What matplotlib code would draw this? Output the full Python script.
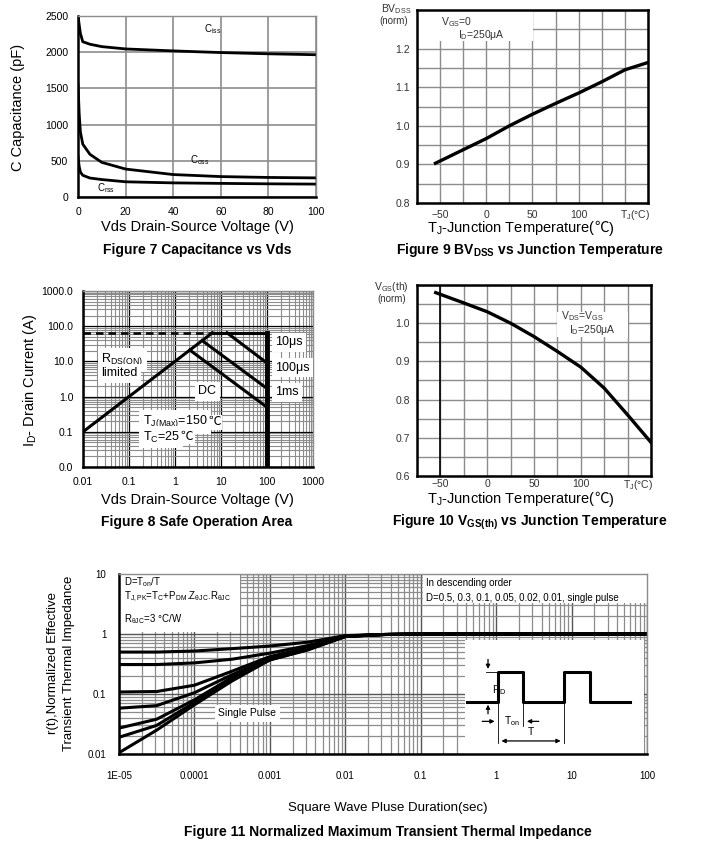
import matplotlib.pyplot as plt
from matplotlib.patches import Rectangle
from matplotlib.ticker import LogLocator, NullFormatter, MultipleLocator

plt.rcParams['font.family'] = ['Liberation Sans', 'DejaVu Sans']
plt.rcParams['mathtext.fontset'] = 'custom'
plt.rcParams['mathtext.rm'] = 'Liberation Sans'
plt.rcParams['mathtext.it'] = 'Liberation Sans:italic'
plt.rcParams['mathtext.bf'] = 'Liberation Sans:bold'
plt.rcParams['mathtext.default'] = 'regular'

# ---- Figure 7: capacitance vs Vds
vds = [0, 0.5, 1, 2, 5, 10, 20, 40, 60, 80, 100]
ciss = [2500, 2380, 2260, 2145, 2110, 2077, 2045, 2018, 1995, 1978, 1965]
coss = [1560, 1150, 900, 730, 590, 478, 386, 310, 282, 270, 264]
crss = [560, 420, 345, 300, 262, 241, 210, 195, 188, 182, 178]

# ---- Figure 9: BVdss (norm) vs Tj
tj9 = [-55, -25, 0, 25, 50, 75, 100, 125, 150, 175]
bvdss = [0.903, 0.938, 0.967, 1.0, 1.03, 1.058, 1.085, 1.114, 1.145, 1.164]

# ---- Figure 10: Vgs(th) (norm) vs Tj
tj10 = [-55, -25, 0, 25, 50, 75, 100, 125, 150, 175]
vgsth = [1.08, 1.053, 1.03, 1.0, 0.965, 0.926, 0.885, 0.83, 0.76, 0.688]

# ---- Figure 8: safe operating area
rds_v = [0.01, 6.5]
rds_i = [0.1, 65]
limit_v = [6.5, 100, 100]
limit_i = [65, 65, 0.01]
us10_v = [13.5, 100]
us10_i = [65, 9]
us100_v = [3.9, 100]
us100_i = [39, 1.7]
ms1_v = [2.1, 100]
ms1_i = [21, 0.5]

# ---- Figure 11: transient thermal impedance
t_pulse = [1e-5, 3.16e-5, 1e-4, 3.16e-4, 1e-3, 3.16e-3, 1e-2, 3.16e-2, 0.1, 100]
zth = {
    'D=0.5':  [0.50, 0.50, 0.52, 0.57, 0.63, 0.73, 0.94, 0.98, 1.0, 1.0],
    'D=0.3':  [0.31, 0.31, 0.33, 0.38, 0.48, 0.64, 0.93, 0.98, 1.0, 1.0],
    'D=0.1':  [0.108, 0.11, 0.14, 0.24, 0.42, 0.59, 0.92, 0.98, 1.0, 1.0],
    'D=0.05': [0.058, 0.064, 0.105, 0.21, 0.39, 0.57, 0.91, 0.98, 1.0, 1.0],
    'D=0.02': [0.027, 0.038, 0.08, 0.19, 0.375, 0.56, 0.91, 0.98, 1.0, 1.0],
    'D=0.01': [0.019, 0.03, 0.072, 0.185, 0.37, 0.55, 0.91, 0.98, 1.0, 1.0],
    'single': [0.0105, 0.025, 0.066, 0.165, 0.37, 0.54, 0.91, 0.98, 1.0, 1.0],
}
# square-wave sketch inside figure 11
wave_t = [0.41, 1.06, 1.06, 2.3, 2.3, 7.9, 7.9, 17.7, 17.7, 60]
wave_p = [0.073, 0.073, 0.23, 0.23, 0.073, 0.073, 0.23, 0.23, 0.073, 0.073]

GRID = '#8c8c8c'
CJK = ['Liberation Sans', 'Noto Sans CJK SC']
W, H = 709, 866
fig = plt.figure(figsize=(W / 100, H / 100), dpi=100)


def px_axes(x0, y0, x1, y1):
    return fig.add_axes([x0 / W, 1 - y1 / H, (x1 - x0) / W, (y1 - y0) / H])


def ftext(x, y, s, **kw):
    kw.setdefault('ha', 'center')
    kw.setdefault('va', 'center')
    return fig.text(x / W, 1 - y / H, s, **kw)


def tail(ax, first, s, dx=0.3, dy=2.0, family=CJK, **kw):
    # glue a plain-text piece (the ℃ sign) right after a mathtext piece
    return ax.annotate(s, xy=(1, 0), xycoords=first, xytext=(dx, dy),
                       textcoords='offset points', ha='left', va='bottom',
                       family=family, annotation_clip=False, **kw)


def frame(ax, dark=('left', 'bottom')):
    for s in ax.spines:
        if s in dark:
            ax.spines[s].set_color('black')
            ax.spines[s].set_linewidth(1.8)
        else:
            ax.spines[s].set_color(GRID)
            ax.spines[s].set_linewidth(1.0)
    ax.set_axisbelow(True)


white = dict(facecolor='white', edgecolor='none', pad=2.5)

# ================= Figure 7
ax7 = px_axes(78, 16, 316, 197)
for y in (ciss, coss, crss):
    ax7.plot(vds, y, color='black', lw=2)
ax7.set_xlim(0, 100)
ax7.set_ylim(0, 2500)
ax7.set_xticks(range(0, 101, 20))
ax7.set_yticks(range(0, 2501, 500))
ax7.grid(color=GRID, lw=1.2)
ax7.tick_params(length=0, labelsize=7.5, pad=7)
frame(ax7)
ax7.text(53, 2280, r'C$_{iss}$', fontsize=7)
ax7.text(47, 460, r'C$_{oss}$', fontsize=7)
ax7.text(8, 75, r'C$_{rss}$', fontsize=7)
ftext(197, 227, 'Vds Drain-Source Voltage (V)', fontsize=10.5)
ftext(18, 107, 'C Capacitance (pF)', fontsize=10.5, rotation=90)
ftext(197, 250, 'Figure 7 Capacitance vs Vds', fontsize=10, fontweight='bold')

# ================= Figure 9
ax9 = px_axes(417, 10, 648, 203)
ax9.plot(tj9, bvdss, color='black', lw=2.4)
ax9.set_xlim(-75, 175)
ax9.set_ylim(0.8, 1.3)
ax9.set_xticks([-50, 0, 50, 100])
ax9.set_yticks([0.8, 0.9, 1.0, 1.1, 1.2])
ax9.set_yticklabels(['0.8', '0.9', '1.0', '1.1', '1.2'])
ax9.xaxis.set_minor_locator(MultipleLocator(25))
ax9.yaxis.set_minor_locator(MultipleLocator(0.05))
ax9.grid(which='both', color=GRID, lw=1.0)
ax9.tick_params(which='both', length=0, labelsize=7.5, pad=5, labelcolor='#333333')
frame(ax9, dark=('left', 'bottom', 'top', 'right'))
ax9.add_patch(Rectangle((-75, 1.22), 125, 0.08, facecolor='white', edgecolor='none', zorder=1))
ax9.text(-32, 1.268, r'V$_{GS}$=0', fontsize=7.5, ha='center', va='center', color='#333333')
ax9.text(-5, 1.234, 'I$_D$=250μA', fontsize=7.5, ha='center', va='center', color='#333333')
ax9.text(161, 0.787, 'T$_J$(°C)', fontsize=7.5, ha='center', va='top', color='#333333')
ftext(396, 9, r'BV$_{DSS}$', fontsize=7.5, color='#333333')
ftext(394, 21, '(norm)', fontsize=7, color='#333333')
lab9 = ftext(427, 228, 'T$_J$-Junction Temperature(', fontsize=10.5, ha='left')
c9 = tail(ax9, lab9, '℃', dx=-0.8, dy=1.3, fontsize=10.5)
tail(ax9, c9, ')', dx=0.0, dy=-0.9, family='Liberation Sans', fontsize=10.5)
ftext(530, 250, r'Figure 9 $\mathbf{BV_{DSS}}$ vs Junction Temperature', fontsize=10,
      fontweight='bold')

# ================= Figure 8
ax8 = px_axes(83, 291, 313, 467)
ax8.set_xscale('log')
ax8.set_yscale('log')
ax8.plot(rds_v, rds_i, color='black', lw=2.2)
ax8.plot([0.01, rds_v[1]], [rds_i[1], rds_i[1]], color='black', lw=1.8, ls=(0, (3, 2)))
ax8.plot(limit_v, limit_i, color='black', lw=2.2)
ax8.plot([100, 100], [65, 0.01], color='black', lw=3.5)
for v, i in ((us10_v, us10_i), (us100_v, us100_i), (ms1_v, ms1_i)):
    ax8.plot(v, i, color='black', lw=2.2)
ax8.set_xlim(0.01, 1000)
ax8.set_ylim(0.01, 1000)
ax8.set_xticks([0.01, 0.1, 1, 10, 100, 1000])
ax8.set_xticklabels(['0.01', '0.1', '1', '10', '100', '1000'])
ax8.set_yticks([0.01, 0.1, 1, 10, 100, 1000])
ax8.set_yticklabels(['0.0', '0.1', '1.0', '10.0', '100.0', '1000.0'])
for axis in (ax8.xaxis, ax8.yaxis):
    axis.set_minor_locator(LogLocator(base=10, subs=range(2, 10), numticks=20))
    axis.set_minor_formatter(NullFormatter())
ax8.grid(which='major', color='black', lw=0.9)
ax8.grid(which='minor', color=GRID, lw=0.8)
ax8.tick_params(which='both', length=0, labelsize=7.5, pad=7)
frame(ax8)
ax8.text(0.025, 11, r'R$_{DS(ON)}$', fontsize=9, va='center', bbox=white)
ax8.text(0.025, 4.6, 'limited', fontsize=9, va='center', bbox=white)
ax8.text(150, 35, '10μs', fontsize=9, va='center', bbox=white)
ax8.text(150, 6.5, '100μs', fontsize=9, va='center', bbox=white)
ax8.text(150, 1.35, '1ms', fontsize=9, va='center', bbox=white)
ax8.text(5, 1.4, 'DC', fontsize=9, va='center', ha='center', bbox=white)
small_box = dict(facecolor='white', edgecolor='none', pad=1.2)
tjm = ax8.text(0.2, 0.19, r'T$_{J(Max)}$=150', fontsize=9, va='center', bbox=white)
tail(ax8, tjm, '℃', dx=0.6, dy=1.6, fontsize=9, bbox=small_box)
tcs = ax8.text(0.2, 0.07, r'T$_C$=25', fontsize=9, va='center', bbox=white)
tail(ax8, tcs, '℃', dx=0.6, dy=1.6, fontsize=9, bbox=small_box)
ftext(197, 500, 'Vds Drain-Source Voltage (V)', fontsize=10.5)
ftext(30, 380, r'I$_D$- Drain Current (A)', fontsize=10.5, rotation=90)
ftext(197, 522, 'Figure 8 Safe Operation Area', fontsize=10, fontweight='bold')

# ================= Figure 10
ax10 = px_axes(417, 285, 651, 476)
ax10.plot(tj10, vgsth, color='black', lw=2.4)
ax10.set_xlim(-75, 175)
ax10.set_ylim(0.6, 1.1)
ax10.set_xticks([-50, 0, 50, 100])
ax10.set_yticks([0.6, 0.7, 0.8, 0.9, 1.0])
ax10.set_yticklabels(['0.6', '0.7', '0.8', '0.9', '1.0'])
ax10.xaxis.set_minor_locator(MultipleLocator(25))
ax10.yaxis.set_minor_locator(MultipleLocator(0.05))
ax10.grid(which='both', color=GRID, lw=1.0)
ax10.axvline(-50, color='black', lw=1.2, zorder=1.5)
ax10.tick_params(which='both', length=0, labelsize=7.5, pad=5, labelcolor='#333333')
ax10.tick_params(axis='x', pad=2)
frame(ax10, dark=('left', 'bottom', 'top', 'right'))
ax10.add_patch(Rectangle((75, 0.963), 75, 0.067, facecolor='white', edgecolor='none', zorder=1))
ax10.text(102, 1.018, r'V$_{DS}$=V$_{GS}$', fontsize=7.5, ha='center', va='center', color='#333333')
ax10.text(112, 0.983, 'I$_D$=250μA', fontsize=7.5, ha='center', va='center', color='#333333')
ax10.text(161, 0.595, 'T$_J$(°C)', fontsize=7.5, ha='center', va='top', color='#333333')
ftext(391, 287, r'V$_{GS}$(th)', fontsize=7.5, color='#333333')
ftext(392, 299, '(norm)', fontsize=7, color='#333333')
lab10 = ftext(427, 499, 'T$_J$-Junction Temperature(', fontsize=10.5, ha='left')
c10 = tail(ax10, lab10, '℃', dx=-0.8, dy=1.3, fontsize=10.5)
tail(ax10, c10, ')', dx=0.0, dy=-0.9, family='Liberation Sans', fontsize=10.5)
ftext(530, 522, r'Figure 10 $\mathbf{V_{GS(th)}}$ vs Junction Temperature', fontsize=10,
      fontweight='bold')

# ================= Figure 11
ax11 = px_axes(119, 574, 647, 754)
ax11.set_xscale('log')
ax11.set_yscale('log')
for key, z in zth.items():
    ax11.plot(t_pulse, z, color='black', lw=2.2)
ax11.set_xlim(1e-5, 100)
ax11.set_ylim(0.01, 10)
xt = [1e-5, 1e-4, 1e-3, 1e-2, 0.1, 1, 10, 100]
ax11.set_xticks(xt)
ax11.set_xticklabels(['1E-05', '0.0001', '0.001', '0.01', '0.1', '1', '10', '100'])
ax11.set_yticks([0.01, 0.1, 1, 10])
ax11.set_yticklabels(['0.01', '0.1', '1', '10'])
for axis in (ax11.xaxis, ax11.yaxis):
    axis.set_minor_locator(LogLocator(base=10, subs=range(2, 10), numticks=20))
    axis.set_minor_formatter(NullFormatter())
ax11.grid(which='major', color='#555555', lw=1.0)
ax11.grid(which='minor', color=GRID, lw=0.9)
ax11.tick_params(which='both', length=0, labelsize=7, pad=12)
ax11.tick_params(axis='y', pad=9)
frame(ax11)
# white legend / inset areas
ax11.add_patch(Rectangle((1e-5, 1.1), 4e-4 - 1e-5, 8.9, facecolor='white', edgecolor='none', zorder=1))
ax11.add_patch(Rectangle((0.107, 3.3), 100 - 0.107, 6.7, facecolor='white', edgecolor='none', zorder=1))
ax11.add_patch(Rectangle((0.39, 0.0101), 90 - 0.39, 0.8 - 0.0101, facecolor='white',
                         edgecolor='none', zorder=1))
ax11.text(1.15e-5, 7.4, r'D=T$_{on}$/T', fontsize=7, va='center')
ax11.text(1.15e-5, 4.2, r'T$_{J,PK}$=T$_C$+P$_{DM}$.Z$_{\theta JC}$.R$_{\theta JC}$', fontsize=7,
          va='center')
ax11.text(1.15e-5, 1.8, r'R$_{\theta JC}$=3 °C/W', fontsize=7, va='center')
ax11.text(0.117, 7.1, 'In descending order', fontsize=7, va='center')
ax11.text(0.117, 4.0, 'D=0.5, 0.3, 0.1, 0.05, 0.02, 0.01, single pulse', fontsize=7, va='center')
ax11.text(5e-4, 0.048, 'Single Pulse', fontsize=7.5, ha='center', va='center', bbox=white)

# square wave sketch
ax11.plot(wave_t, wave_p, color='black', lw=2.2)
ax11.plot([0.74, 1.06], [0.23, 0.23], color='black', lw=0.6)
ax11.plot([1.06, 1.06], [0.073, 0.0155], color='black', lw=0.6)
ax11.plot([7.9, 7.9], [0.073, 0.0155], color='black', lw=0.6)
ax11.plot([2.3, 2.3], [0.073, 0.029], color='black', lw=0.6)
arrow = dict(arrowstyle='-|>', color='black', lw=0.9, mutation_scale=6)
ax11.annotate('', xy=(0.78, 0.235), xytext=(0.78, 0.42), arrowprops=arrow)
ax11.annotate('', xy=(0.78, 0.074), xytext=(0.78, 0.042), arrowprops=arrow)
ax11.annotate('', xy=(1.04, 0.035), xytext=(0.6, 0.035), arrowprops=arrow)
ax11.annotate('', xy=(2.35, 0.035), xytext=(4.0, 0.035), arrowprops=arrow)
ax11.annotate('', xy=(1.08, 0.0165), xytext=(7.8, 0.0165),
              arrowprops=dict(arrowstyle='<|-|>', color='black', lw=0.9, mutation_scale=6))
ax11.text(0.87, 0.115, r'P$_D$', fontsize=7.5, va='center')
ax11.text(1.6, 0.035, r'T$_{on}$', fontsize=7.5, ha='center', va='center')
ax11.text(2.9, 0.023, 'T', fontsize=7.5, ha='center', va='center')

ftext(61, 663, 'r(t),Normalized Effective\nTransient Thermal Impedance', fontsize=9.5,
      rotation=90, linespacing=1.35)
ftext(388, 808, 'Square Wave Pluse Duration(sec)', fontsize=9.5)
ftext(388, 832, 'Figure 11 Normalized Maximum Transient Thermal Impedance', fontsize=10,
      fontweight='bold')

fig.savefig('out.png', dpi=100, facecolor='white')
